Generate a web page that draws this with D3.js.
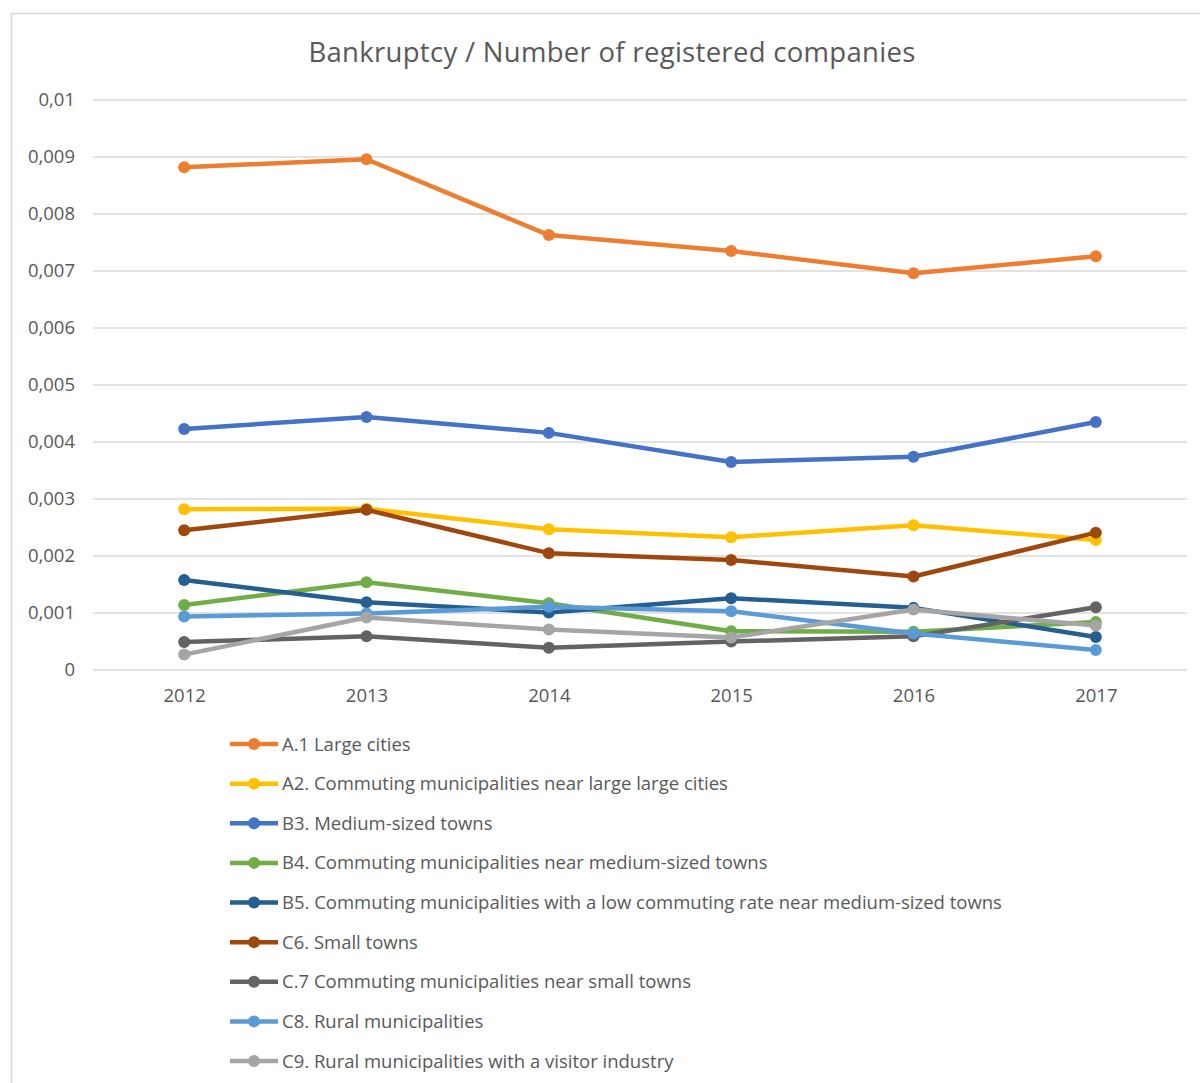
<!DOCTYPE html>
<html>
<head>
<meta charset="utf-8">
<script src="https://cdn.jsdelivr.net/npm/d3@7"></script>
<style>
  body { margin: 0; background: #fff; }
  text { font-family: "Open Sans", "Liberation Sans", sans-serif; fill: #595959; }
</style>
</head>
<body>
<div id="chart"></div>
<script>
const years = ["2012", "2013", "2014", "2015", "2016", "2017"];
const seriesNames = [
    "A.1 Large cities",
    "A2. Commuting  municipalities near large large cities",
    "B3. Medium-sized towns",
    "B4. Commuting municipalities near medium-sized towns",
    "B5. Commuting municipalities with a low commuting rate near medium-sized towns",
    "C6. Small towns",
    "C.7 Commuting municipalities near small towns",
    "C8. Rural municipalities",
    "C9. Rural municipalities with a visitor industry"
];
const seriesColors = ["#ed7d31", "#ffc000", "#4472c4", "#70ad47", "#255e91",
    "#9e480e", "#636363", "#5b9bd5", "#a5a5a5"];

const a1 = [0.00882, 0.00896, 0.00763, 0.00735, 0.00696, 0.00726];
const a2 = [0.00282, 0.00283, 0.00247, 0.00233, 0.00254, 0.00228];
const b3 = [0.00423, 0.00444, 0.00416, 0.00365, 0.00374, 0.00435];
const b4 = [0.00114, 0.00154, 0.00117, 0.00068, 0.00067, 0.00084];
const b5 = [0.00158, 0.00119, 0.00101, 0.00126, 0.00109, 0.00058];
const c6 = [0.00245, 0.00281, 0.00205, 0.00193, 0.00164, 0.00241];
const c7 = [0.00049, 0.00059, 0.00039, 0.00050, 0.00059, 0.00110];
const c8 = [0.00094, 0.00099, 0.00111, 0.00103, 0.00064, 0.00035];
const c9 = [0.00027, 0.00092, 0.00071, 0.00057, 0.00106, 0.00078];
const allValues = [a1, a2, b3, b4, b5, c6, c7, c8, c9];

const yTicks = [0, 0.001, 0.002, 0.003, 0.004, 0.005, 0.006, 0.007, 0.008, 0.009, 0.01];

const W = 1200, H = 1083;
const margin = {top: 100, right: 13, bottom: 413, left: 93};

const svg = d3.select("#chart").append("svg")
    .attr("width", W)
    .attr("height", H);

// chart border
svg.append("rect")
    .attr("x", 11.5).attr("y", 13.5)
    .attr("width", 1200).attr("height", 1100)
    .attr("fill", "#fff")
    .attr("stroke", "#d9d9d9")
    .attr("stroke-width", 1.5);

svg.append("text")
    .attr("x", 612).attr("y", 62)
    .attr("text-anchor", "middle")
    .style("font-size", "27.5px")
    .style("letter-spacing", "0.3px")
    .text("Bankruptcy / Number of registered companies");

let x = d3.scalePoint()
    .domain(years)
    .range([margin.left, W - margin.right])
    .padding(0.5);

let y = d3.scaleLinear()
    .domain([0, 0.01])
    .range([H - margin.bottom, margin.top]);

// gridlines
svg.append("g")
    .selectAll("line")
    .data(yTicks)
    .join("line")
    .attr("x1", margin.left)
    .attr("x2", W - margin.right)
    .attr("y1", d => y(d))
    .attr("y2", d => y(d))
    .attr("stroke", "#d9d9d9")
    .attr("stroke-width", 1.5);

let fmt = d => d === 0 ? "0" : String(+d.toFixed(3)).replace(".", ",");

let yAxis = svg.append("g")
    .attr("transform", `translate(${margin.left},0)`)
    .call(d3.axisLeft(y).tickValues(yTicks).tickFormat(fmt).tickSize(0).tickPadding(18));
yAxis.select(".domain").remove();
yAxis.selectAll("text").style("font-size", "18.5px").attr("fill", "#595959");

let xAxis = svg.append("g")
    .attr("transform", `translate(0,${H - margin.bottom})`)
    .call(d3.axisBottom(x).tickSize(0).tickPadding(19));
xAxis.select(".domain").remove();
xAxis.selectAll("text").style("font-size", "18.5px").attr("fill", "#595959");

let line = d3.line()
    .x((d, i) => x(years[i]))
    .y(d => y(d));

allValues.forEach(function (vals, k) {
    let g = svg.append("g");
    g.append("path")
        .datum(vals)
        .attr("fill", "none")
        .attr("stroke", seriesColors[k])
        .attr("stroke-width", 4.5)
        .attr("stroke-linejoin", "round")
        .attr("d", line);
    g.selectAll("circle")
        .data(vals)
        .join("circle")
        .attr("cx", (d, i) => x(years[i]))
        .attr("cy", d => y(d))
        .attr("r", 6)
        .attr("fill", seriesColors[k]);
});

// legend
let legend = svg.append("g");
let rowY = d3.scalePoint().domain(d3.range(seriesNames.length)).range([744, 1061]);
seriesNames.forEach(function (name, k) {
    let ly = rowY(k);
    legend.append("line")
        .attr("x1", 230).attr("x2", 278)
        .attr("y1", ly).attr("y2", ly)
        .attr("stroke", seriesColors[k])
        .attr("stroke-width", 4.5);
    legend.append("circle")
        .attr("cx", 254).attr("cy", ly).attr("r", 6)
        .attr("fill", seriesColors[k]);
    legend.append("text")
        .attr("x", 282).attr("y", ly + 6.5)
        .style("font-size", "18.5px")
        .text(name);
});
</script>
</body>
</html>
